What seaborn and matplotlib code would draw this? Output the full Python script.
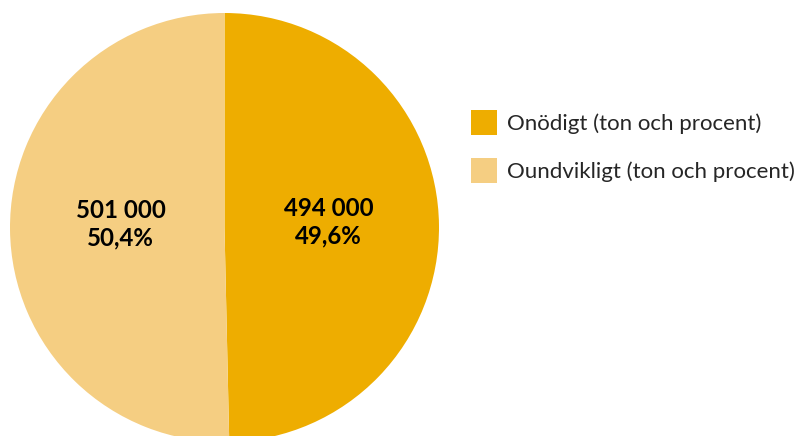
import matplotlib
matplotlib.use("Agg")
import matplotlib.pyplot as plt
import seaborn as sns

categories = ["Onödigt (ton och procent)", "Oundvikligt (ton och procent)"]
values = [494000, 501000]
colors = ["#EEAD00", "#F5CE82"]

sns.set_theme(style="white")
plt.rcParams['font.family'] = ['Lato', 'DejaVu Sans']

W, H = 798, 436
fig = plt.figure(figsize=(W / 100, H / 100), dpi=100)
cx, cy, r = 224.5, 208.5, 214.5
ax = fig.add_axes([(cx - r) / W, (cy - r) / H, 2 * r / W, 2 * r / H])

total = sum(values)

def fmt(pct):
    v = int(round(pct * total / 100.0, -3))
    return f"{v:,}".replace(",", " ") + "\n" + f"{pct:.1f}".replace(".", ",") + "%"

wedges, texts, autotexts = ax.pie(values, colors=colors, startangle=90, counterclock=False,
                                  autopct=fmt, pctdistance=0.485, radius=1,
                                  wedgeprops=dict(linewidth=0),
                                  textprops=dict(fontsize=17.3, fontweight='bold', color='black',
                                                 linespacing=1.2))
for t in autotexts:
    x, y = t.get_position()
    t.set_position((x, y + 0.02))
ax.set_xlim(-1, 1)
ax.set_ylim(-1, 1)
ax.axis('off')

fig.legend(wedges, categories, loc='upper left', bbox_to_anchor=(471 / W, 1 - 110 / H),
           frameon=False, fontsize=16, handlelength=1.17, handleheight=1.17 * 26 / 22,
           handletextpad=0.45, labelspacing=1.0, borderaxespad=0, borderpad=0)

fig.savefig("out.png", dpi=100)
